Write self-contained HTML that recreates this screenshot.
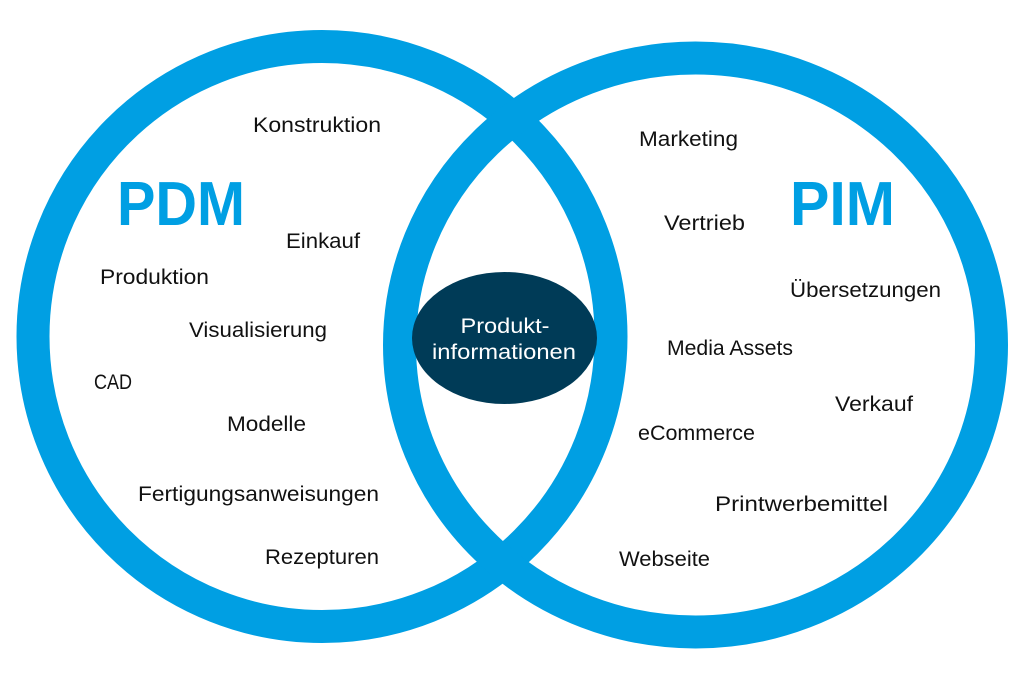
<!DOCTYPE html>
<html><head><meta charset="utf-8"><style>
html,body{margin:0;padding:0;background:#fff;width:1024px;height:683px;overflow:hidden}
svg text{font-family:"Liberation Sans","DejaVu Sans",sans-serif}
</style></head><body>
<svg width="1024" height="683" viewBox="0 0 1024 683" xmlns="http://www.w3.org/2000/svg">
<g fill="none" stroke="#009FE3" stroke-width="33">
<ellipse cx="322" cy="336.5" rx="289" ry="290"/>
<ellipse cx="695.5" cy="345" rx="296" ry="287"/>
</g>
<ellipse cx="504.5" cy="338" rx="92.5" ry="66" fill="#003B57"/>
<text x="505" y="333" fill="#fff" font-size="21" text-anchor="middle" textLength="89" lengthAdjust="spacingAndGlyphs">Produkt-</text>
<text x="504" y="359" fill="#fff" font-size="21" text-anchor="middle" textLength="144" lengthAdjust="spacingAndGlyphs">informationen</text>
<text x="117" y="225" fill="#009FE3" font-size="62" font-weight="bold" textLength="128" lengthAdjust="spacingAndGlyphs">PDM</text>
<text x="790" y="225" fill="#009FE3" font-size="62" font-weight="bold" textLength="105" lengthAdjust="spacingAndGlyphs">PIM</text>
<g fill="#111" font-size="21">
<text x="253" y="132" textLength="128" lengthAdjust="spacingAndGlyphs">Konstruktion</text>
<text x="286" y="248" textLength="74" lengthAdjust="spacingAndGlyphs">Einkauf</text>
<text x="100" y="284" textLength="109" lengthAdjust="spacingAndGlyphs">Produktion</text>
<text x="189" y="337" textLength="138" lengthAdjust="spacingAndGlyphs">Visualisierung</text>
<text x="94" y="389" textLength="38" lengthAdjust="spacingAndGlyphs">CAD</text>
<text x="227" y="431" textLength="79" lengthAdjust="spacingAndGlyphs">Modelle</text>
<text x="138" y="501" textLength="241" lengthAdjust="spacingAndGlyphs">Fertigungsanweisungen</text>
<text x="265" y="564" textLength="114" lengthAdjust="spacingAndGlyphs">Rezepturen</text>
<text x="639" y="146" textLength="99" lengthAdjust="spacingAndGlyphs">Marketing</text>
<text x="664" y="230" textLength="81" lengthAdjust="spacingAndGlyphs">Vertrieb</text>
<text x="790" y="297" textLength="151" lengthAdjust="spacingAndGlyphs">Übersetzungen</text>
<text x="667" y="355" textLength="126" lengthAdjust="spacingAndGlyphs">Media Assets</text>
<text x="835" y="411" textLength="78" lengthAdjust="spacingAndGlyphs">Verkauf</text>
<text x="638" y="440" textLength="117" lengthAdjust="spacingAndGlyphs">eCommerce</text>
<text x="715" y="511" textLength="173" lengthAdjust="spacingAndGlyphs">Printwerbemittel</text>
<text x="619" y="566" textLength="91" lengthAdjust="spacingAndGlyphs">Webseite</text>
</g>
</svg>
</body></html>
